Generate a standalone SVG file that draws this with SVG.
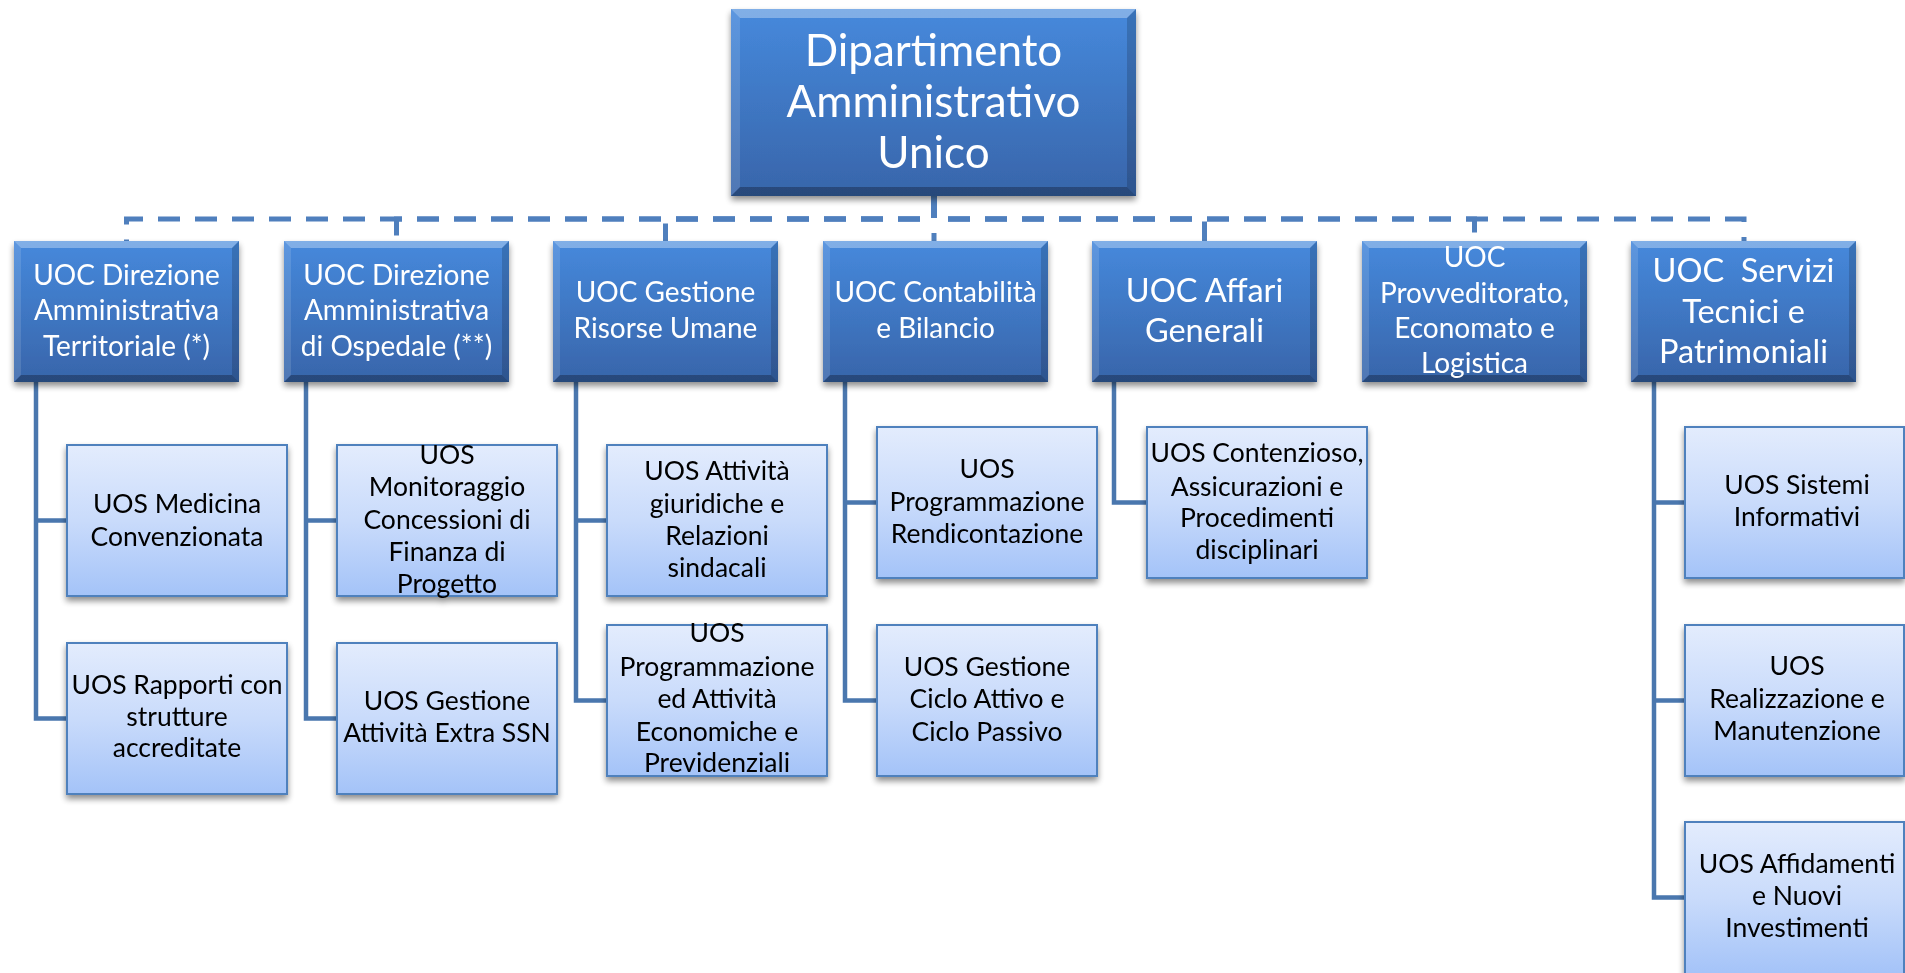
<svg xmlns="http://www.w3.org/2000/svg" xmlns:xlink="http://www.w3.org/1999/xlink" width="1905" height="973" viewBox="0 0 1905 973">
<style>
.bg{fill:#ffffff}
.l1{fill:url(#g1)}
.l2{fill:url(#g2);stroke:#4f81bd;stroke-width:2}
.t0,.t1,.t2{font-family:Lato,"Open Sans","Liberation Sans",sans-serif;text-anchor:middle}
.t0{fill:#fff;font-size:44px}
.t1{fill:#fff;font-size:28px}
.t1b{font-size:32.5px}
.t2{fill:#000;font-size:26.5px}
.dash{fill:none;stroke:#4f7fbd;stroke-width:5;stroke-dasharray:22 15}
.conn{fill:none;stroke:#4a77ae;stroke-width:4.5}
.bt{fill:#ffffff;fill-opacity:.32}
.bb{fill:#000000;fill-opacity:.28}
.bl{fill:#ffffff;fill-opacity:.12}
.br{fill:#000000;fill-opacity:.16}
</style>
<defs>
<linearGradient id="g1" x1="0" y1="0" x2="0" y2="1">
<stop offset="0" stop-color="#4689dc"/>
<stop offset="1" stop-color="#3865aa"/>
</linearGradient>
<linearGradient id="g2" x1="0" y1="0" x2="0" y2="1">
<stop offset="0" stop-color="#e3ecfd"/>
<stop offset="0.5" stop-color="#c9dbfb"/>
<stop offset="1" stop-color="#a4c3f8"/>
</linearGradient>
<filter id="sh" x="-10%" y="-10%" width="120%" height="130%">
<feGaussianBlur in="SourceAlpha" stdDeviation="3"/>
<feOffset dx="0" dy="4" result="b"/>
<feComponentTransfer><feFuncA type="linear" slope="0.45"/></feComponentTransfer>
<feMerge><feMergeNode/><feMergeNode in="SourceGraphic"/></feMerge>
</filter>
<g id="bev1">
<polygon class="bt" points="0,0 225,0 218,7 7,7"/>
<polygon class="bb" points="0,141 225,141 218,134 7,134"/>
<polygon class="bl" points="0,0 7,7 7,134 0,141"/>
<polygon class="br" points="225,0 218,7 218,134 225,141"/>
</g>
</defs>
<rect class="bg" x="0" y="0" width="1905" height="973"/>

<g id="connectors">
<path class="dash" d="M934,196 V219 H126.5 V241"/>
<path class="dash" d="M934,196 V219 H396.5 V241"/>
<path class="dash" d="M934,196 V219 H665.5 V241"/>
<path class="dash" d="M934,196 V241"/>
<path class="dash" d="M934,196 V219 H1204.5 V241"/>
<path class="dash" d="M934,196 V219 H1474.5 V241"/>
<path class="dash" d="M934,196 V219 H1744 V241"/>
<path class="conn" d="M36,382 V718.5 H67 M36,520.5 H67"/>
<path class="conn" d="M306,382 V718.5 H337 M306,520.5 H337"/>
<path class="conn" d="M576,382 V700.5 H607 M576,520.5 H607"/>
<path class="conn" d="M845,382 V700.5 H877 M845,502.5 H877"/>
<path class="conn" d="M1114,382 V502.5 H1147"/>
<path class="conn" d="M1654,382 V897.5 H1685 M1654,502.5 H1685 M1654,700.5 H1685"/>
</g>

<g id="root" filter="url(#sh)">
<rect class="l1" x="731" y="9" width="405" height="187"/>
<polygon class="bt" points="731,9 1136,9 1127,18 740,18"/>
<polygon class="bb" points="731,196 1136,196 1127,187 740,187"/>
<polygon class="bl" points="731,9 740,18 740,187 731,196"/>
<polygon class="br" points="1136,9 1127,18 1127,187 1136,196"/>
<text class="t0"><tspan x="933.5" y="66">Dipartimento</tspan><tspan x="933.5" y="117">Amministrativo</tspan><tspan x="933.5" y="168">Unico</tspan></text>
</g>

<g id="uoc1" transform="translate(14,241)" filter="url(#sh)">
<rect class="l1" width="225" height="141"/><use xlink:href="#bev1"/>
<text class="t1"><tspan x="112.5" y="44">UOC Direzione</tspan><tspan x="112.5" y="79">Amministrativa</tspan><tspan x="112.5" y="115">Territoriale (*)</tspan></text>
</g>
<g id="uoc2" transform="translate(284,241)" filter="url(#sh)">
<rect class="l1" width="225" height="141"/><use xlink:href="#bev1"/>
<text class="t1"><tspan x="112.5" y="44">UOC Direzione</tspan><tspan x="112.5" y="79">Amministrativa</tspan><tspan x="112.5" y="115">di Ospedale (**)</tspan></text>
</g>
<g id="uoc3" transform="translate(553,241)" filter="url(#sh)">
<rect class="l1" width="225" height="141"/><use xlink:href="#bev1"/>
<text class="t1"><tspan x="112.5" y="61">UOC Gestione</tspan><tspan x="112.5" y="97">Risorse Umane</tspan></text>
</g>
<g id="uoc4" transform="translate(823,241)" filter="url(#sh)">
<rect class="l1" width="225" height="141"/><use xlink:href="#bev1"/>
<text class="t1"><tspan x="112.5" y="61">UOC Contabilità</tspan><tspan x="112.5" y="97">e Bilancio</tspan></text>
</g>
<g id="uoc5" transform="translate(1092,241)" filter="url(#sh)">
<rect class="l1" width="225" height="141"/><use xlink:href="#bev1"/>
<text class="t1 t1b"><tspan x="112.5" y="61">UOC Affari</tspan><tspan x="112.5" y="101">Generali</tspan></text>
</g>
<g id="uoc6" transform="translate(1362,241)" filter="url(#sh)">
<rect class="l1" width="225" height="141"/><use xlink:href="#bev1"/>
<text class="t1"><tspan x="112.5" y="26">UOC</tspan><tspan x="112.5" y="62">Provveditorato,</tspan><tspan x="112.5" y="97">Economato e</tspan><tspan x="112.5" y="132">Logistica</tspan></text>
</g>
<g id="uoc7" transform="translate(1631,241)" filter="url(#sh)">
<rect class="l1" width="225" height="141"/><use xlink:href="#bev1"/>
<text class="t1 t1b" xml:space="preserve"><tspan x="112.5" y="41">UOC  Servizi</tspan><tspan x="112.5" y="82">Tecnici e</tspan><tspan x="112.5" y="122">Patrimoniali</tspan></text>
</g>

<g id="uos1a" filter="url(#sh)">
<rect class="l2" x="67" y="445" width="220" height="151"/>
<text class="t2"><tspan x="177" y="513">UOS Medicina</tspan><tspan x="177" y="546">Convenzionata</tspan></text>
</g>
<g id="uos1b" filter="url(#sh)">
<rect class="l2" x="67" y="643" width="220" height="151"/>
<text class="t2"><tspan x="177" y="694">UOS Rapporti con</tspan><tspan x="177" y="726">strutture</tspan><tspan x="177" y="757">accreditate</tspan></text>
</g>
<g id="uos2a" filter="url(#sh)">
<rect class="l2" x="337" y="445" width="220" height="151"/>
<text class="t2"><tspan x="447" y="464">UOS</tspan><tspan x="447" y="496">Monitoraggio</tspan><tspan x="447" y="529">Concessioni di</tspan><tspan x="447" y="561">Finanza di</tspan><tspan x="447" y="593">Progetto</tspan></text>
</g>
<g id="uos2b" filter="url(#sh)">
<rect class="l2" x="337" y="643" width="220" height="151"/>
<text class="t2"><tspan x="447" y="710">UOS Gestione</tspan><tspan x="447" y="742">Attività Extra SSN</tspan></text>
</g>
<g id="uos3a" filter="url(#sh)">
<rect class="l2" x="607" y="445" width="220" height="151"/>
<text class="t2"><tspan x="717" y="480">UOS Attività</tspan><tspan x="717" y="513">giuridiche e</tspan><tspan x="717" y="545">Relazioni</tspan><tspan x="717" y="577">sindacali</tspan></text>
</g>
<g id="uos3b" filter="url(#sh)">
<rect class="l2" x="607" y="625" width="220" height="151"/>
<text class="t2"><tspan x="717" y="642">UOS</tspan><tspan x="717" y="676">Programmazione</tspan><tspan x="717" y="708">ed Attività</tspan><tspan x="717" y="741">Economiche e</tspan><tspan x="717" y="772">Previdenziali</tspan></text>
</g>
<g id="uos4a" filter="url(#sh)">
<rect class="l2" x="877" y="427" width="220" height="151"/>
<text class="t2"><tspan x="987" y="478">UOS</tspan><tspan x="987" y="511">Programmazione</tspan><tspan x="987" y="543">Rendicontazione</tspan></text>
</g>
<g id="uos4b" filter="url(#sh)">
<rect class="l2" x="877" y="625" width="220" height="151"/>
<text class="t2"><tspan x="987" y="676">UOS Gestione</tspan><tspan x="987" y="708">Ciclo Attivo e</tspan><tspan x="987" y="741">Ciclo Passivo</tspan></text>
</g>
<g id="uos5a" filter="url(#sh)">
<rect class="l2" x="1147" y="427" width="220" height="151"/>
<text class="t2"><tspan x="1257" y="462">UOS Contenzioso,</tspan><tspan x="1257" y="496">Assicurazioni e</tspan><tspan x="1257" y="527">Procedimenti</tspan><tspan x="1257" y="559">disciplinari</tspan></text>
</g>
<g id="uos7a" filter="url(#sh)">
<rect class="l2" x="1685" y="427" width="219" height="151"/>
<text class="t2"><tspan x="1797" y="494">UOS Sistemi</tspan><tspan x="1797" y="526">Informativi</tspan></text>
</g>
<g id="uos7b" filter="url(#sh)">
<rect class="l2" x="1685" y="625" width="219" height="151"/>
<text class="t2"><tspan x="1797" y="675">UOS</tspan><tspan x="1797" y="708">Realizzazione e</tspan><tspan x="1797" y="740">Manutenzione</tspan></text>
</g>
<g id="uos7c" filter="url(#sh)">
<rect class="l2" x="1685" y="822" width="219" height="152"/>
<text class="t2"><tspan x="1797" y="873">UOS Affidamenti</tspan><tspan x="1797" y="905">e Nuovi</tspan><tspan x="1797" y="937">Investimenti</tspan></text>
</g>
</svg>
